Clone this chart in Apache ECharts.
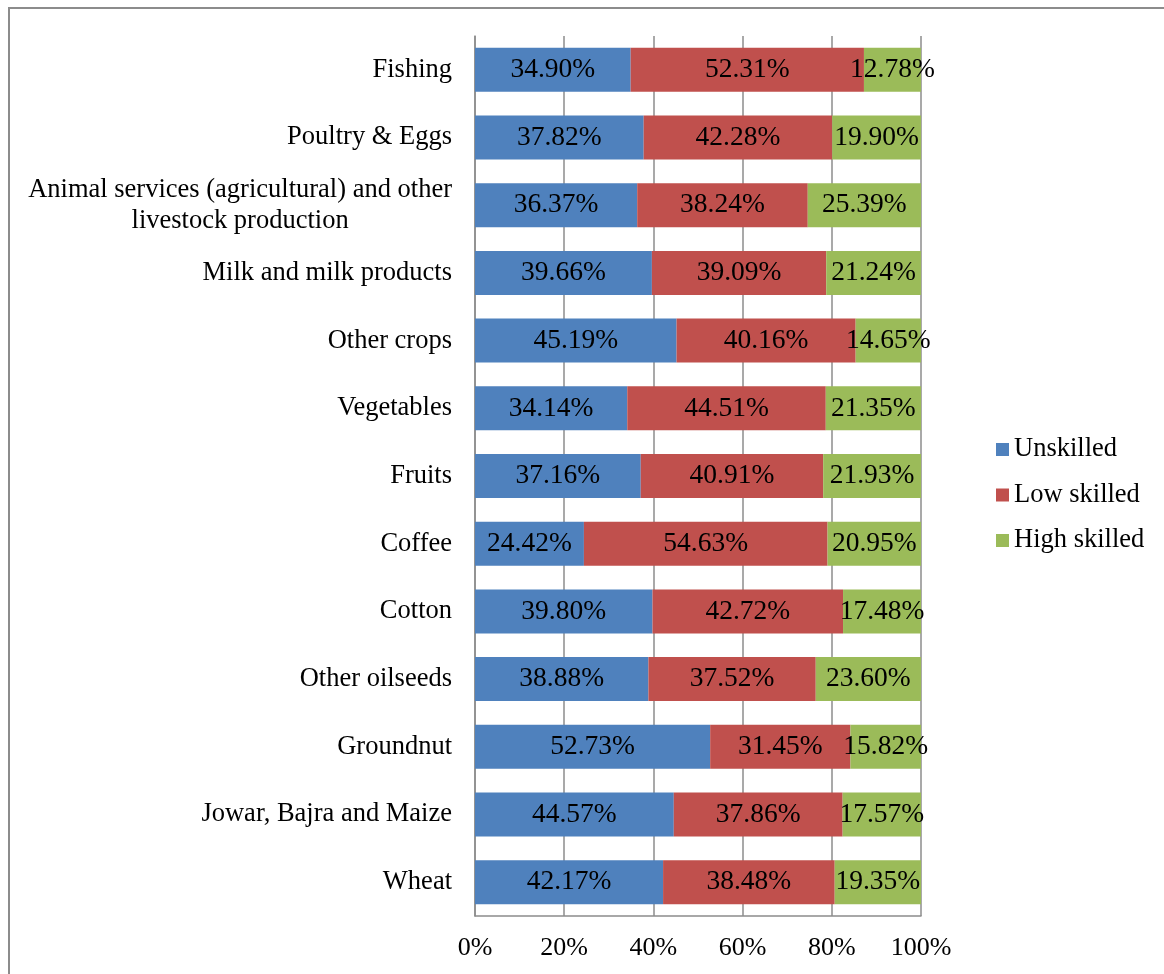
<!DOCTYPE html>
<html>
<head>
<meta charset="utf-8">
<script src="https://cdn.jsdelivr.net/npm/echarts@6/dist/echarts.min.js"></script>
<style>
html,body{margin:0;padding:0;background:#fff;overflow:hidden;}
#frame{position:absolute;left:8px;top:7px;width:1200px;height:1000px;border-left:2px solid #8c8c8c;border-top:2px solid #8c8c8c;box-sizing:border-box;}
#chart{position:absolute;left:0;top:0;width:1164px;height:974px;}
</style>
</head>
<body>
<div id="frame"></div>
<div id="chart"></div>
<script>
const categories = ["Fishing","Poultry & Eggs","Animal services (agricultural) and other\nlivestock production","Milk and milk products","Other crops","Vegetables","Fruits","Coffee","Cotton","Other oilseeds","Groundnut","Jowar, Bajra and Maize","Wheat"];
const unskilled = [34.90,37.82,36.37,39.66,45.19,34.14,37.16,24.42,39.80,38.88,52.73,44.57,42.17];
const lowSkilled = [52.31,42.28,38.24,39.09,40.16,44.51,40.91,54.63,42.72,37.52,31.45,37.86,38.48];
const highSkilled = [12.78,19.90,25.39,21.24,14.65,21.35,21.93,20.95,17.48,23.60,15.82,17.57,19.35];
const seriesNames = ["Unskilled","Low skilled","High skilled"];
const xTicks = [0,20,40,60,80,100];

const FONT = '"Liberation Serif","Times New Roman",serif';
const colors = ['#4F81BD','#C0504D','#9BBB59'];
const chart = echarts.init(document.getElementById('chart'));
function mk(name, data, color){
  return {
    name: name, type: 'bar', stack: 'total', data: data, barWidth: '65%',
    itemStyle: {color: color},
    label: {show: true, position: 'inside', color: '#000', fontFamily: FONT, fontSize: 27.5,
      formatter: p => p.value.toFixed(2) + '%'}
  };
}
chart.setOption({
  animation: false,
  color: colors,
  grid: {left: 475, right: 243, top: 36, bottom: 58, containLabel: false},
  legend: {
    orient: 'vertical', left: 991, top: 431, itemGap: 18.5, itemWidth: 13, itemHeight: 13,
    icon: 'rect', data: seriesNames,
    textStyle: {fontFamily: FONT, fontSize: 26.5, lineHeight: 26, color: '#000', padding: [0,0,0,0]}
  },
  xAxis: {
    type: 'value', min: 0, max: 100, interval: 20,
    axisLine: {show: true, lineStyle: {color: '#8c8c8c', width: 1.5}},
    axisTick: {show: false},
    splitLine: {show: true, lineStyle: {color: '#8c8c8c', width: 1.5}},
    axisLabel: {margin: 19, color: '#000', fontFamily: FONT, fontSize: 26,
      formatter: v => xTicks.includes(v) ? v + '%' : ''}
  },
  yAxis: {
    type: 'category', data: categories, inverse: true,
    axisLine: {show: true, lineStyle: {color: '#8c8c8c', width: 1.5}},
    axisTick: {show: false},
    axisLabel: {margin: 23, color: '#000', fontFamily: FONT, fontSize: 26.5, lineHeight: 31,
      formatter: v => v.indexOf('\n') >= 0 ? v.split('\n').map(s => '{c|' + s + '}').join('\n') : v,
      rich: {c: {align: 'center', fontFamily: FONT, fontSize: 26.5, lineHeight: 31, color: '#000'}}
    }
  },
  series: [mk(seriesNames[0], unskilled, colors[0]), mk(seriesNames[1], lowSkilled, colors[1]), mk(seriesNames[2], highSkilled, colors[2])]
});
</script>
</body>
</html>
